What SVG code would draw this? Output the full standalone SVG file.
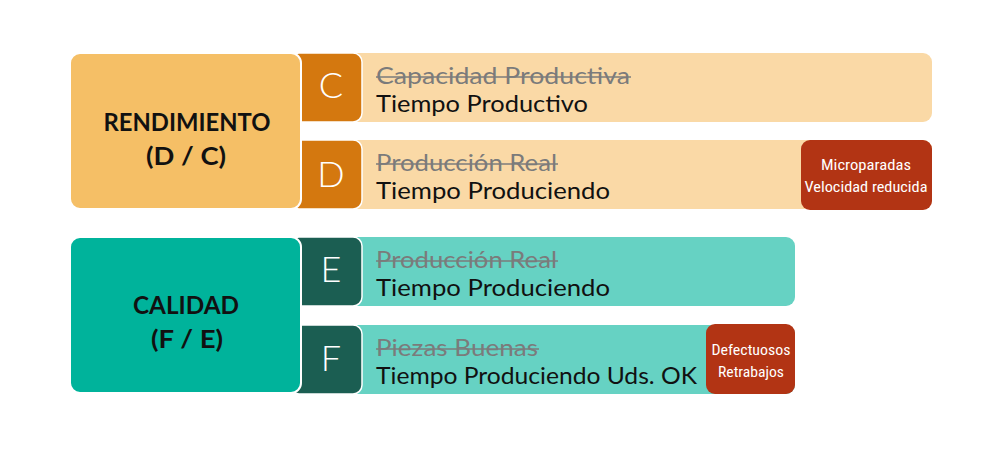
<svg xmlns="http://www.w3.org/2000/svg" width="1000" height="450" viewBox="0 0 1000 450">
<style>
text{font-family:Lato,"Open Sans","Liberation Sans",sans-serif}
.big{stroke:#fff;stroke-width:2}
.lt{stroke:#fff;stroke-width:1.5}
.title{font-size:24px;font-weight:bold;fill:#111;text-anchor:middle}
.letter{font-size:36px;fill:#fff;text-anchor:middle;font-weight:300}
.old{font-size:23px;fill:#7b7b7b}
.now{font-size:23px;fill:#111}
.tag{font-size:15px;fill:#fff;text-anchor:middle;font-family:"Liberation Sans Narrow","Roboto Condensed",Roboto,sans-serif}
.strike{stroke:#7b7b7b;stroke-width:1.6}
</style>
<rect width="1000" height="450" fill="#fff"/>

<g id="bar-C">
<rect x="340" y="53" width="592" height="69" rx="9" fill="#FAD9A6"/>
<text class="old" x="376" y="84" textLength="254" lengthAdjust="spacingAndGlyphs">Capacidad Productiva</text>
<line class="strike" x1="376" y1="77" x2="631" y2="77"/>
<text class="now" x="376" y="112" textLength="212" lengthAdjust="spacingAndGlyphs">Tiempo Productivo</text>
</g>
<g id="bar-D">
<rect x="340" y="140" width="592" height="69" rx="9" fill="#FAD9A6"/>
<text class="old" x="376" y="171" textLength="181" lengthAdjust="spacingAndGlyphs">Producción Real</text>
<line class="strike" x1="376" y1="164" x2="558" y2="164"/>
<text class="now" x="376" y="199" textLength="234" lengthAdjust="spacingAndGlyphs">Tiempo Produciendo</text>
<rect x="801" y="140" width="131" height="70" rx="9" fill="#B23414"/>
<text class="tag" x="866" y="170" textLength="90" lengthAdjust="spacingAndGlyphs">Microparadas</text>
<text class="tag" x="866" y="192" textLength="123" lengthAdjust="spacingAndGlyphs">Velocidad reducida</text>
</g>
<g id="bar-E">
<rect x="340" y="237" width="455" height="69" rx="9" fill="#66D2C3"/>
<text class="old" x="376" y="268" textLength="181" lengthAdjust="spacingAndGlyphs">Producción Real</text>
<line class="strike" x1="376" y1="261" x2="558" y2="261"/>
<text class="now" x="376" y="296" textLength="234" lengthAdjust="spacingAndGlyphs">Tiempo Produciendo</text>
</g>
<g id="bar-F">
<rect x="340" y="325" width="455" height="69" rx="9" fill="#66D2C3"/>
<text class="old" x="376" y="356" textLength="162" lengthAdjust="spacingAndGlyphs">Piezas Buenas</text>
<line class="strike" x1="376" y1="349" x2="539" y2="349"/>
<text class="now" x="376" y="384" textLength="321" lengthAdjust="spacingAndGlyphs">Tiempo Produciendo Uds. OK</text>
<rect x="706" y="324" width="89" height="70" rx="9" fill="#B23414"/>
<text class="tag" x="751" y="355" textLength="79" lengthAdjust="spacingAndGlyphs">Defectuosos</text>
<text class="tag" x="751" y="377" textLength="66" lengthAdjust="spacingAndGlyphs">Retrabajos</text>
</g>

<g id="letter-C">
<rect class="lt" x="290" y="53" width="72" height="69" rx="9" fill="#D4780F"/>
<text class="letter" x="331" y="98">C</text>
</g>
<g id="letter-D">
<rect class="lt" x="290" y="140" width="72" height="69" rx="9" fill="#D4780F"/>
<text class="letter" x="331" y="187">D</text>
</g>
<g id="letter-E">
<rect class="lt" x="290" y="237" width="72" height="69" rx="9" fill="#1B5E52"/>
<text class="letter" x="331" y="282">E</text>
</g>
<g id="letter-F">
<rect class="lt" x="290" y="325" width="72" height="69" rx="9" fill="#1B5E52"/>
<text class="letter" x="331" y="371">F</text>
</g>

<g id="rendimiento">
<rect class="big" x="70" y="53" width="231" height="156" rx="10" fill="#F5BF66"/>
<text class="title" x="187" y="131" textLength="167" lengthAdjust="spacingAndGlyphs">RENDIMIENTO</text>
<text class="title" x="186" y="165" textLength="80" lengthAdjust="spacingAndGlyphs">(D / C)</text>
</g>
<g id="calidad">
<rect class="big" x="70" y="237" width="231" height="156" rx="10" fill="#00B39B"/>
<text class="title" x="186" y="314" textLength="106" lengthAdjust="spacingAndGlyphs">CALIDAD</text>
<text class="title" x="187" y="348" textLength="72" lengthAdjust="spacingAndGlyphs">(F / E)</text>
</g>
</svg>
